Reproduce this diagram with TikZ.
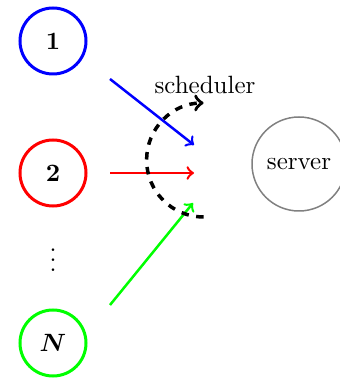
\documentclass[tikz,border=0pt]{standalone}
\usepackage{bm}
\begin{document}
\begin{tikzpicture}[x=0.4pt,y=0.4pt,
  src/.style={circle,very thick,draw,minimum size=26.4pt,inner sep=0pt},
  srv/.style={circle,semithick,draw=gray,minimum size=37.6pt,inner sep=0pt},
  flow/.style={line width=1pt,->}]
\useasboundingbox (0,0) rectangle (340,380);
\node[src,draw=blue] (n1) at (53,339) {\textbf{1}};
\node[src,draw=red] (n2) at (53,207) {\textbf{2}};
\node[src,draw=green] (nN) at (53,37) {$\bm{N}$};
\node (dots) at (53,127) {$\vdots$};
\node[srv] (server) at (299,216) {server};
\node (sched) at (205,295) {scheduler};
\coordinate (b0) at (110,301);
\coordinate (b1) at (194,235);
\coordinate (r0) at (110,207);
\coordinate (r1) at (194,207);
\coordinate (g0) at (110,75);
\coordinate (g1) at (193,177);
\coordinate (c0) at (203.6,163);
\draw[flow,blue] (b0) -- (b1);
\draw[flow,red] (r0) -- (r1);
\draw[flow,green] (g0) -- (g1);
\draw[line width=1.4pt,dashed,->] (c0) arc[start angle=-90,end angle=-270,radius=57];
\end{tikzpicture}
\end{document}
